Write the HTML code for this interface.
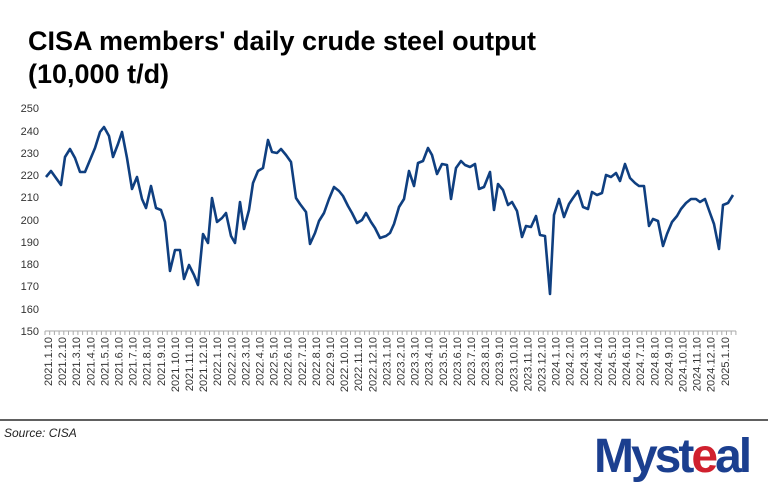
<!DOCTYPE html>
<html><head><meta charset="utf-8"><style>
body{margin:0;width:768px;height:485px;background:#fff;overflow:hidden;font-family:"Liberation Sans",Arial,sans-serif}
</style></head><body>
<svg width="768" height="485" xmlns="http://www.w3.org/2000/svg" font-family="Liberation Sans, Arial, sans-serif">
<text x="28" y="50" font-size="27" font-weight="bold" fill="#000">CISA members' daily crude steel output</text>
<text x="28" y="83" font-size="27" font-weight="bold" fill="#000">(10,000 t/d)</text>
<g font-size="11" fill="#333" text-anchor="end">
<text x="39" y="112">250</text><text x="39" y="135">240</text><text x="39" y="157">230</text>
<text x="39" y="179">220</text><text x="39" y="201">210</text><text x="39" y="224">200</text>
<text x="39" y="246">190</text><text x="39" y="268">180</text><text x="39" y="290">170</text>
<text x="39" y="313">160</text><text x="39" y="335">150</text>
</g>
<line x1="45" y1="331" x2="736" y2="331" stroke="#aaa" stroke-width="1"/>
<g id="ticks" stroke="#aaa" stroke-width="1"></g>
<g id="labels" font-size="11" fill="#333"></g>
<polyline fill="none" stroke="#0f3f80" stroke-width="2.6" stroke-linejoin="round" points="46,177 51,171 56,178 61,185 65,157 70,149 75,158 80,172 85,172 90,160 95,148 100,132 104,127 109,136 113,157 118,144 122,132 127,158 132,189 137,177 142,199 146,208 151,186 156,208 161,210 165,222 170,271 175,250 180,250 184,279 189,265 194,275 198,285 203,234 208,243 212,198 217,222 222,218 226,213 231,236 235,243 240,202 244,229 249,210 253,183 258,171 263,168 268,140 272,152 277,153 281,149 286,155 291,162 296,198 300,204 306,212 310,244 315,233 319,221 324,213 329,199 334,187 339,191 343,196 348,206 352,213 357,223 362,220 366,213 371,222 375,228 380,238 386,236 390,233 394,224 399,207 404,199 409,171 414,186 418,163 423,161 428,148 432,155 437,174 442,164 447,165 451,199 456,168 461,161 465,165 470,167 475,164 479,189 484,187 490,172 494,210 498,184 503,190 508,205 512,202 517,211 522,237 526,226 531,227 536,216 540,235 545,236 550,294 554,215 559,199 564,217 569,204 573,198 578,191 583,207 588,209 592,192 597,195 602,193 606,175 611,177 616,173 620,181 625,164 630,178 635,183 639,186 644,186 649,226 653,219 658,221 663,246 667,234 672,222 677,216 681,209 686,203 691,199 696,199 700,202 705,199 710,213 714,224 719,249 723,205 728,203 733,195"/>
<line x1="0" y1="420" x2="768" y2="420" stroke="#000" stroke-width="1.3"/>
<text x="4" y="437" font-size="12" font-style="italic" fill="#222">Source: CISA</text>
<text x="594" y="472" font-size="48" font-weight="bold" fill="#1b3f8f" letter-spacing="-3" transform="scale(1,1)">Myst<tspan fill="#d0202e">e</tspan>al</text>
<script>
var t=document.getElementById('ticks'),l=document.getElementById('labels'),ns="http://www.w3.org/2000/svg";
for(var i=0;i<=147;i++){var x=45+i*4.7;var ln=document.createElementNS(ns,'line');ln.setAttribute('x1',x);ln.setAttribute('x2',x);ln.setAttribute('y1',331);ln.setAttribute('y2',335);t.appendChild(ln);}
var k=0;for(var y=2021;y<=2025;y++){for(var m=1;m<=12;m++){if(y==2025&&m>1)break;var x=48+k*14.1;var tx=document.createElementNS(ns,'text');tx.setAttribute('transform','translate('+(x+4)+',337) rotate(-90)');tx.setAttribute('text-anchor','end');tx.textContent=y+'.'+m+'.10';l.appendChild(tx);k++;}}
</script>
</svg>
</body></html>
